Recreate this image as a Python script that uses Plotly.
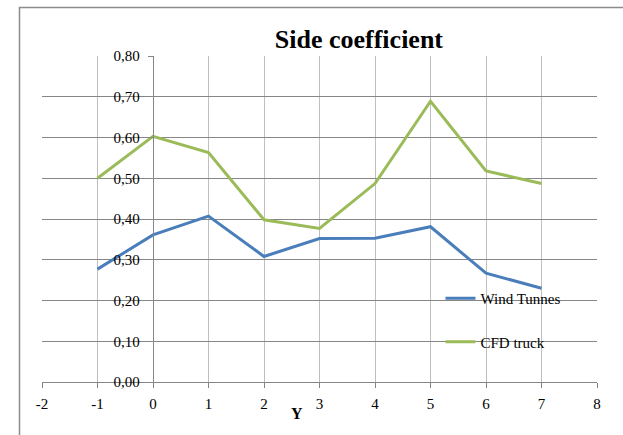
import plotly.graph_objects as go

# Measurement positions along Y
y_pos = [-1, 0, 1, 2, 3, 4, 5, 6, 7]

# Side coefficient per source
wind_tunnel = [0.277, 0.361, 0.407, 0.308, 0.352, 0.353, 0.381, 0.267, 0.230]
cfd_truck = [0.500, 0.603, 0.563, 0.398, 0.377, 0.487, 0.689, 0.518, 0.487]

x_ticks = list(range(-2, 9))
x_tick_text = [str(v) for v in x_ticks]
y_ticks = [round(0.1 * i, 2) for i in range(0, 9)]
y_tick_text = [f"{v:.2f}".replace(".", ",") for v in y_ticks]

FONT = "Liberation Serif"
tick_font = dict(family=FONT, size=15, color="#000000")

fig = go.Figure()
fig.add_trace(go.Scatter(
    x=y_pos, y=wind_tunnel, mode="lines", name="Wind Tunnes",
    line=dict(color="#4a7ebb", width=3), legendgroup="wt",
))
fig.add_trace(go.Scatter(
    x=y_pos, y=cfd_truck, mode="lines", name="CFD truck",
    line=dict(color="#9bbb59", width=3), legendgroup="cfd",
))

fig.update_layout(
    width=623, height=435,
    margin=dict(l=42, r=26, t=56, b=53),
    paper_bgcolor="white", plot_bgcolor="white",
    font=dict(family=FONT, size=15, color="#000000"),
    title=dict(
        text="<b>Side coefficient</b>", font=dict(family=FONT, size=26, color="#000000"),
        x=0.571, xref="paper", xanchor="center",
        y=1 - 39 / 435, yref="container", yanchor="middle",
    ),
    showlegend=True,
    legend=dict(
        x=0.718, y=0.307, xanchor="left", yanchor="top",
        bgcolor="rgba(0,0,0,0)", font=dict(family=FONT, size=15, color="#000000"),
        tracegroupgap=21, itemwidth=30,
    ),
    xaxis=dict(
        range=[-2, 8], tickmode="array", tickvals=x_ticks, ticktext=x_tick_text,
        tickfont=tick_font,
        showgrid=True, gridcolor="#bfbfbf", gridwidth=1.3,
        zeroline=False, showline=True, linecolor="#868686", linewidth=1.3,
        ticks="outside", ticklen=5, tickcolor="#868686",
        ticklabelstandoff=3,
    ),
    yaxis=dict(
        range=[0, 0.8], tickmode="array", tickvals=y_ticks, ticktext=y_tick_text,
        tickfont=tick_font,
        showgrid=True, gridcolor="#868686", gridwidth=1.3,
        zeroline=False, showline=True, linecolor="#868686", linewidth=1.3,
        anchor="free", position=0.2,
        ticks="outside", ticklen=5, tickcolor="#868686",
        ticklabelstandoff=5,
    ),
    annotations=[dict(
        text="<b>Y</b>", x=2.6, xref="x", y=-(413 - 382) / 326, yref="paper",
        showarrow=False, font=dict(family=FONT, size=16, color="#000000"),
        xanchor="center", yanchor="middle",
    )],
    shapes=[dict(
        type="rect", xref="paper", yref="paper",
        x0=(19.5 - 42) / 555, x1=1.2, y0=-0.4, y1=1 + (56 - 7.5) / 326,
        line=dict(color="#8c8c8c", width=1.5), layer="below",
    )],
)

fig.write_html("out.html")
